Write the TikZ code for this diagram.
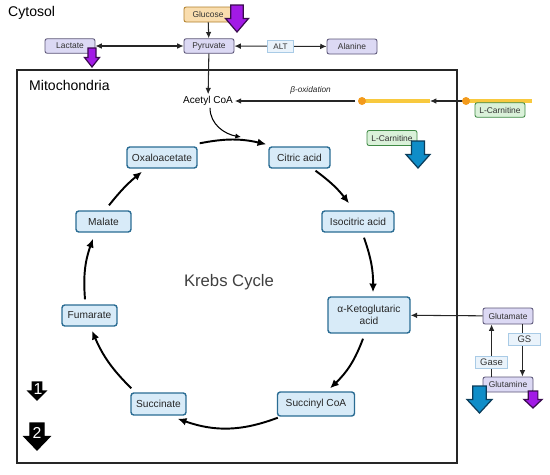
\documentclass[tikz,border=0pt]{standalone}
\usepackage{fontspec}
\setmainfont{Liberation Sans}
\usetikzlibrary{arrows.meta,calc}

\definecolor{lav}{HTML}{DCD9F4}
\definecolor{lavline}{HTML}{5B5577}
\definecolor{gluc}{HTML}{F9DDAE}
\definecolor{glucline}{HTML}{B07F2A}
\definecolor{carn}{HTML}{DAF1D9}
\definecolor{carnline}{HTML}{3F8A45}
\definecolor{cyc}{HTML}{D8EBF8}
\definecolor{cycline}{HTML}{2A6C93}
\definecolor{enz}{HTML}{EAF3FB}
\definecolor{enzline}{HTML}{A9CBE6}
\definecolor{purparr}{HTML}{A21AE6}
\definecolor{purpline}{HTML}{3A0B4F}
\definecolor{cblue}{HTML}{0F8DC8}
\definecolor{cblueline}{HTML}{0B3C5A}
\definecolor{fatty}{HTML}{F8C93E}
\definecolor{fattydot}{HTML}{F39A1C}

% block arrow pointing down: style, centre x, top y, width, height
\newcommand{\blockarr}[5]{%
  \draw[#1] ({#2-0.27*#4},#3) -- ({#2+0.27*#4},#3) -- ({#2+0.27*#4},{#3-0.5*#5})
    -- ({#2+0.5*#4},{#3-0.5*#5}) -- (#2,{#3-#5}) -- ({#2-0.5*#4},{#3-0.5*#5})
    -- ({#2-0.27*#4},{#3-0.5*#5}) -- cycle;}

\begin{document}
\begin{tikzpicture}[
  x=0.02cm, y=0.02cm,
  font=\fontsize{4.8}{5.6}\selectfont,
  >={Latex[length=3.6pt,width=3.2pt]},
  met/.style={draw=lavline, fill=lav, rounded corners=1.2pt, line width=0.5pt, minimum width=1cm, minimum height=0.29cm, inner sep=1pt, text=black!80},
  sugar/.style={met, draw=glucline, fill=gluc},
  carnbox/.style={met, draw=carnline, fill=carn},
  cycbox/.style={draw=cycline, fill=cyc, rounded corners=1.6pt, line width=0.8pt, minimum height=0.42cm, inner sep=1.5pt, align=center, font=\fontsize{5.8}{6.8}\selectfont, text=black!85},
  enzbox/.style={draw=enzline, fill=enz, line width=0.4pt, inner sep=1pt, minimum height=0.24cm, minimum width=0.64cm, font=\fontsize{5.4}{6}\selectfont, text=black!80},
  arr/.style={->, line width=0.6pt, black!85},
  cycarr/.style={-{Latex[length=5pt,width=4.4pt]}, line width=1.1pt},
  fat/.style={line width=2pt, fatty},
  fadot/.style={circle, fill=fattydot, inner sep=0pt, minimum size=0.16cm},
  bigarr/.style={line width=0.7pt, line join=miter}
]
\useasboundingbox (0,0) rectangle (550,-474);

% cytosol
\node[anchor=west, font=\fontsize{8}{9}\selectfont] (cytosol) at (2,-13) {Cytosol};
\node[sugar, minimum width=0.96cm, minimum height=0.3cm] (glucose) at (208,-14.5) {Glucose};
\node[met] (pyruvate) at (209,-46) {Pyruvate};
\node[met] (lactate) at (70,-46) {Lactate};
\node[met, minimum height=0.3cm] (alanine) at (352,-46.5) {Alanine};

% mitochondria
\draw[line width=1pt, black!85] (17,-70) rectangle (457,-463);
\node[anchor=west, font=\fontsize{8}{9}\selectfont] (mito) at (23,-85) {Mitochondria};
\node[font=\fontsize{5.7}{6.5}\selectfont, inner sep=1pt] (acetyl) at (208,-101) {Acetyl CoA};

\coordinate (bstart) at (355,-101);
\coordinate (fa1) at (362,-101);
\coordinate (fa1end) at (430,-101);
\coordinate (fa2) at (466,-101);
\coordinate (fa2end) at (532,-101);
\coordinate (join) at (241,-137);

\draw[fat] (fa1) -- (fa1end);
\draw[fat] (fa2) -- (fa2end);
\draw[arr] (fa2) -- (fa1end);
\node[fadot] (dot1) at (fa1) {};
\node[fadot] (dot2) at (fa2) {};
\node[carnbox] (lcarnout) at (500,-110) {L-Carnitine};
\node[carnbox, minimum height=0.3cm] (lcarnin) at (392,-138) {L-Carnitine};

% krebs cycle
\node[cycbox, minimum width=1.4cm] (oxa) at (162,-157.5) {Oxaloacetate};
\node[cycbox, minimum width=1.22cm] (cit) at (299.5,-157.5) {Citric acid};
\node[cycbox, minimum width=1.44cm] (iso) at (358,-221.5) {Isocitric acid};
\node[cycbox, minimum width=1.64cm, minimum height=0.72cm] (akg) at (369,-315) {α-Ketoglutaric\\acid};
\node[cycbox, minimum width=1.54cm, minimum height=0.48cm] (sca) at (316,-404) {Succinyl CoA};
\node[cycbox, minimum width=1.1cm, minimum height=0.44cm] (suc) at (158.5,-404) {Succinate};
\node[cycbox, minimum width=1.1cm] (fum) at (89.5,-315.5) {Fumarate};
\node[cycbox, minimum width=1.1cm] (mal) at (103.5,-221.5) {Malate};
\node[font=\fontsize{9.5}{11}\selectfont, text=black!75] (krebs) at (229,-282) {Krebs Cycle};

% glutamine side
\node[met, minimum height=0.32cm] (glutamate) at (508,-316) {Glutamate};
\node[met, minimum height=0.3cm] (glutamine) at (508,-384.5) {Glutamine};

\draw[arr] (glucose) -- (pyruvate);
\draw[arr, <->] (lactate) -- (pyruvate);
\draw[arr, <->] (pyruvate) -- node[enzbox, minimum width=0.52cm, font=\fontsize{4.6}{5.2}\selectfont] (alt) {ALT} (alanine);
\draw[arr] (pyruvate) -- (acetyl);
\draw[arr] (bstart) -- node[pos=0.37, above=0.5pt, font=\fontsize{4.7}{5.5}\selectfont\itshape] (beta) {β-oxidation} (acetyl);
\draw[line width=0.6pt, -{Latex[length=3.2pt,width=3pt]}] ([xshift=0.04cm]acetyl.south) to[out=-90, in=170] (join);

\foreach \a/\ax/\ay/\b/\bx/\by/\bb in {
  oxa.north east/2/3/cit.north west/-2/2/12,
  cit.south/16/-2/iso.north/-9/7/8,
  iso.south/6/-5/akg.north/4/4/10,
  akg.south/-6/-5/sca.north/14/3/13,
  sca.south west/1/-1/suc.south east/-9/-3/20,
  suc.north west/1/4/fum.south/2.5/-4/11,
  fum.north/-4.5/5/mal.south/-10.5/-6/12,
  mal.north/5.5/5/oxa.south/-20/-3/6}
  \draw[cycarr] ($(\a)+(\ax,\ay)$) to[bend left=\bb] ($(\b)+(\bx,\by)$);

\draw[arr] (glutamate) -- (akg);
\draw[arr] ($(glutamine.north west)+(9,0)$) -- node[enzbox, pos=0.28] (gase) {Gase} ($(glutamate.south west)+(9,0)$);
\draw[arr] ($(glutamate.south east)+(-11,0)$) -- node[enzbox, pos=0.28, xshift=0.04cm] (gs) {GS} ($(glutamine.north east)+(-11,0)$);

% big arrows
\blockarr{bigarr, fill=purparr, draw=purpline}{237}{-5}{23}{27}
\blockarr{bigarr, fill=purparr, draw=purpline}{92}{-48}{15}{19}
\blockarr{bigarr, fill=cblue, draw=cblueline}{418}{-141}{24}{27}
\blockarr{bigarr, fill=cblue, draw=cblueline}{479.5}{-386}{25}{27}
\blockarr{bigarr, fill=purparr, draw=purpline}{533}{-391}{18}{17}
\blockarr{bigarr, fill=black, draw=black}{37}{-382}{18}{18}
\blockarr{bigarr, fill=black, draw=black}{37}{-423}{26}{27}
\node[text=white, font=\fontsize{9}{10}\selectfont] (leg1) at (38,-389) {1};
\node[text=white, font=\fontsize{9}{10}\selectfont] (leg2) at (37,-433) {2};
\end{tikzpicture}
\end{document}
